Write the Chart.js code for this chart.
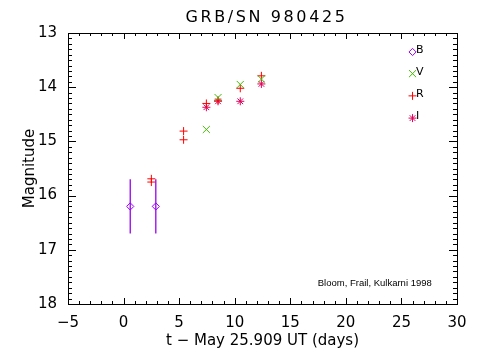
<!DOCTYPE html>
<html><head><meta charset="utf-8">
<script src="https://cdn.jsdelivr.net/npm/chart.js@4/dist/chart.umd.min.js"></script>
<style>html,body{margin:0;padding:0;background:#fff}#wrap{width:477px;height:356px;position:relative}</style>
</head><body><div id="wrap"><canvas id="c"></canvas></div>
<script>
// ---- text ----
const titleText = 'GRB/SN 980425';
const xLabel = 't \u2212 May 25.909 UT (days)';
const yLabel = 'Magnitude';
const creditText = 'Bloom, Frail, Kulkarni 1998';

// ---- axes ----
const xMin = -5, xMax = 30, xMajor = 5, xMinor = 1;
const yMin = 13, yMax = 18, yMajor = 1, yMinor = 0.1;

// ---- data (days since May 25.909 UT, magnitude) ----
const bT = [0.6, 2.9];
const bMag = [16.2, 16.2];
const bErrLo = [15.7, 15.7];
const bErrHi = [16.7, 16.7];

const vT = [7.45, 8.5, 10.5, 12.4];
const vMag = [14.78, 14.19, 13.95, 13.85];

const rT = [2.5, 2.5, 5.4, 5.4, 7.45, 8.5, 10.5, 12.4];
const rMag = [15.69, 15.75, 14.81, 14.97, 14.30, 14.24, 14.02, 13.79];

const iT = [7.45, 8.5, 10.5, 12.4];
const iMag = [14.37, 14.26, 14.26, 13.94];

// key symbols drawn in the plot
const keyBands = ['B', 'V', 'R', 'I'];
const keyT = [26, 26, 26, 26];
const keyMag = [13.35, 13.75, 14.16, 14.57];

// credit position (data coords, centre)
const creditX = 22.6, creditY = 17.62;

// ---- styles ----
const colB = '#9a00f0', colV = '#44bb00', colR = '#ff0000', colI = '#e0005a';
const FONT = "'DejaVu Sans', sans-serif";

const pts = (xs, ys) => xs.map((x, k) => ({x, y: ys[k]}));

const bandStyle = {
  B: {pointStyle: 'rectRot', radius: 3.6, color: colB},
  V: {pointStyle: 'crossRot', radius: 5, color: colV},
  R: {pointStyle: 'cross', radius: 4, color: colR},
  I: {pointStyle: 'star', radius: 4, color: colI}
};
function ds(label, data, band) {
  const s = bandStyle[band];
  return {label, data, pointStyle: s.pointStyle, pointRadius: s.radius,
    pointBorderColor: s.color, pointBackgroundColor: 'rgba(0,0,0,0)',
    pointBorderWidth: 1, showLine: false};
}

const datasets = [
  ds('B', pts(bT, bMag), 'B'),
  ds('V', pts(vT, vMag), 'V'),
  ds('R', pts(rT, rMag), 'R'),
  ds('I', pts(iT, iMag), 'I'),
  ...keyBands.map((b, k) => ds('key ' + b, [{x: keyT[k], y: keyMag[k]}], b))
];

const decorPlugin = {
  id: 'decor',
  beforeDatasetsDraw(chart) {
    const {ctx, scales: {x, y}} = chart;
    ctx.save();
    ctx.strokeStyle = colB; ctx.lineWidth = 1.3;
    ctx.beginPath();
    bT.forEach((t, k) => {
      const px = x.getPixelForValue(t);
      ctx.moveTo(px, y.getPixelForValue(bErrLo[k]));
      ctx.lineTo(px, y.getPixelForValue(bErrHi[k]));
    });
    ctx.stroke();
    ctx.restore();
  },
  afterDraw(chart) {
    const {ctx, chartArea: a, scales: {x, y}} = chart;
    ctx.save();
    ctx.strokeStyle = '#000'; ctx.lineWidth = 1;
    ctx.beginPath();
    const nx = Math.round((xMax - xMin) / xMinor);
    for (let k = 0; k <= nx; k++) {
      const v = xMin + k * xMinor;
      const p = Math.round(x.getPixelForValue(v)) + 0.5;
      const L = (Math.abs(v / xMajor - Math.round(v / xMajor)) < 1e-6) ? 6 : 3;
      ctx.moveTo(p, a.bottom); ctx.lineTo(p, a.bottom - L);
      ctx.moveTo(p, a.top); ctx.lineTo(p, a.top + L);
    }
    const ny = Math.round((yMax - yMin) / yMinor);
    for (let k = 0; k <= ny; k++) {
      const v = yMin + k * yMinor;
      const p = Math.round(y.getPixelForValue(v)) + 0.5;
      const L = (k % Math.round(yMajor / yMinor) === 0) ? 8 : 4;
      ctx.moveTo(a.left, p); ctx.lineTo(a.left + L, p);
      ctx.moveTo(a.right, p); ctx.lineTo(a.right - L, p);
    }
    ctx.stroke();
    // title
    ctx.fillStyle = '#000';
    ctx.font = "16px " + FONT;
    ctx.letterSpacing = '2.6px';
    ctx.textAlign = 'center'; ctx.textBaseline = 'alphabetic';
    ctx.fillText(titleText, (a.left + a.right) / 2 + 4, 21.5);
    ctx.letterSpacing = '0px';
    // key letters
    ctx.font = "11px " + FONT;
    ctx.textAlign = 'left';
    keyBands.forEach((b, k) => {
      ctx.fillText(b, x.getPixelForValue(keyT[k]) + 3.5, y.getPixelForValue(keyMag[k]) + 1);
    });
    // credit
    ctx.font = "9.5px 'Liberation Sans', sans-serif";
    ctx.textAlign = 'center'; ctx.textBaseline = 'middle';
    ctx.fillText(creditText, x.getPixelForValue(creditX), y.getPixelForValue(creditY));
    ctx.restore();
  }
};

const PLOT_TOP = 33, PLOT_LEFT = 68, PLOT_RIGHT = 457, PLOT_BOTTOM = 304, W = 477, H = 356;

new Chart(document.getElementById('c'), {
  type: 'scatter',
  data: {datasets},
  options: {
    responsive: true, maintainAspectRatio: false, animation: false,
    layout: {padding: {top: PLOT_TOP, left: 0, right: 0, bottom: 0}},
    plugins: {
      legend: {display: false},
      tooltip: {enabled: false},
      title: {display: false}
    },
    scales: {
      x: {type: 'linear', position: 'bottom', min: xMin, max: xMax,
        afterFit(s) { s.height = H - PLOT_BOTTOM; },
        ticks: {stepSize: xMajor, color: '#000', padding: 10, maxRotation: 0,
          font: {family: FONT, size: 15},
          callback: v => (v < 0 ? '\u2212' + Math.abs(v) : String(v))},
        grid: {display: false, drawTicks: false},
        border: {display: true, color: '#000', width: 1},
        title: {display: true, text: xLabel, color: '#000', font: {family: FONT, size: 15, lineHeight: 1.2},
          padding: {top: 0, bottom: 5.5}}
      },
      x2: {type: 'linear', position: 'top', min: xMin, max: xMax,
        afterFit(s) { s.height = 0; },
        ticks: {display: false}, grid: {display: false, drawTicks: false},
        border: {display: true, color: '#000', width: 1}
      },
      y: {type: 'linear', position: 'left', reverse: true, min: yMin, max: yMax,
        afterFit(s) { s.width = PLOT_LEFT; },
        ticks: {stepSize: yMajor, color: '#000', padding: 11, font: {family: FONT, size: 15}},
        grid: {display: false, drawTicks: false},
        border: {display: true, color: '#000', width: 1},
        title: {display: true, text: yLabel, color: '#000', font: {family: FONT, size: 15, lineHeight: 1.2},
          padding: {top: 21, bottom: 0}}
      },
      y2: {type: 'linear', position: 'right', reverse: true, min: yMin, max: yMax,
        afterFit(s) { s.width = W - PLOT_RIGHT; },
        ticks: {display: false}, grid: {display: false, drawTicks: false},
        border: {display: true, color: '#000', width: 1}
      }
    }
  },
  plugins: [decorPlugin]
});
</script>
</body></html>
